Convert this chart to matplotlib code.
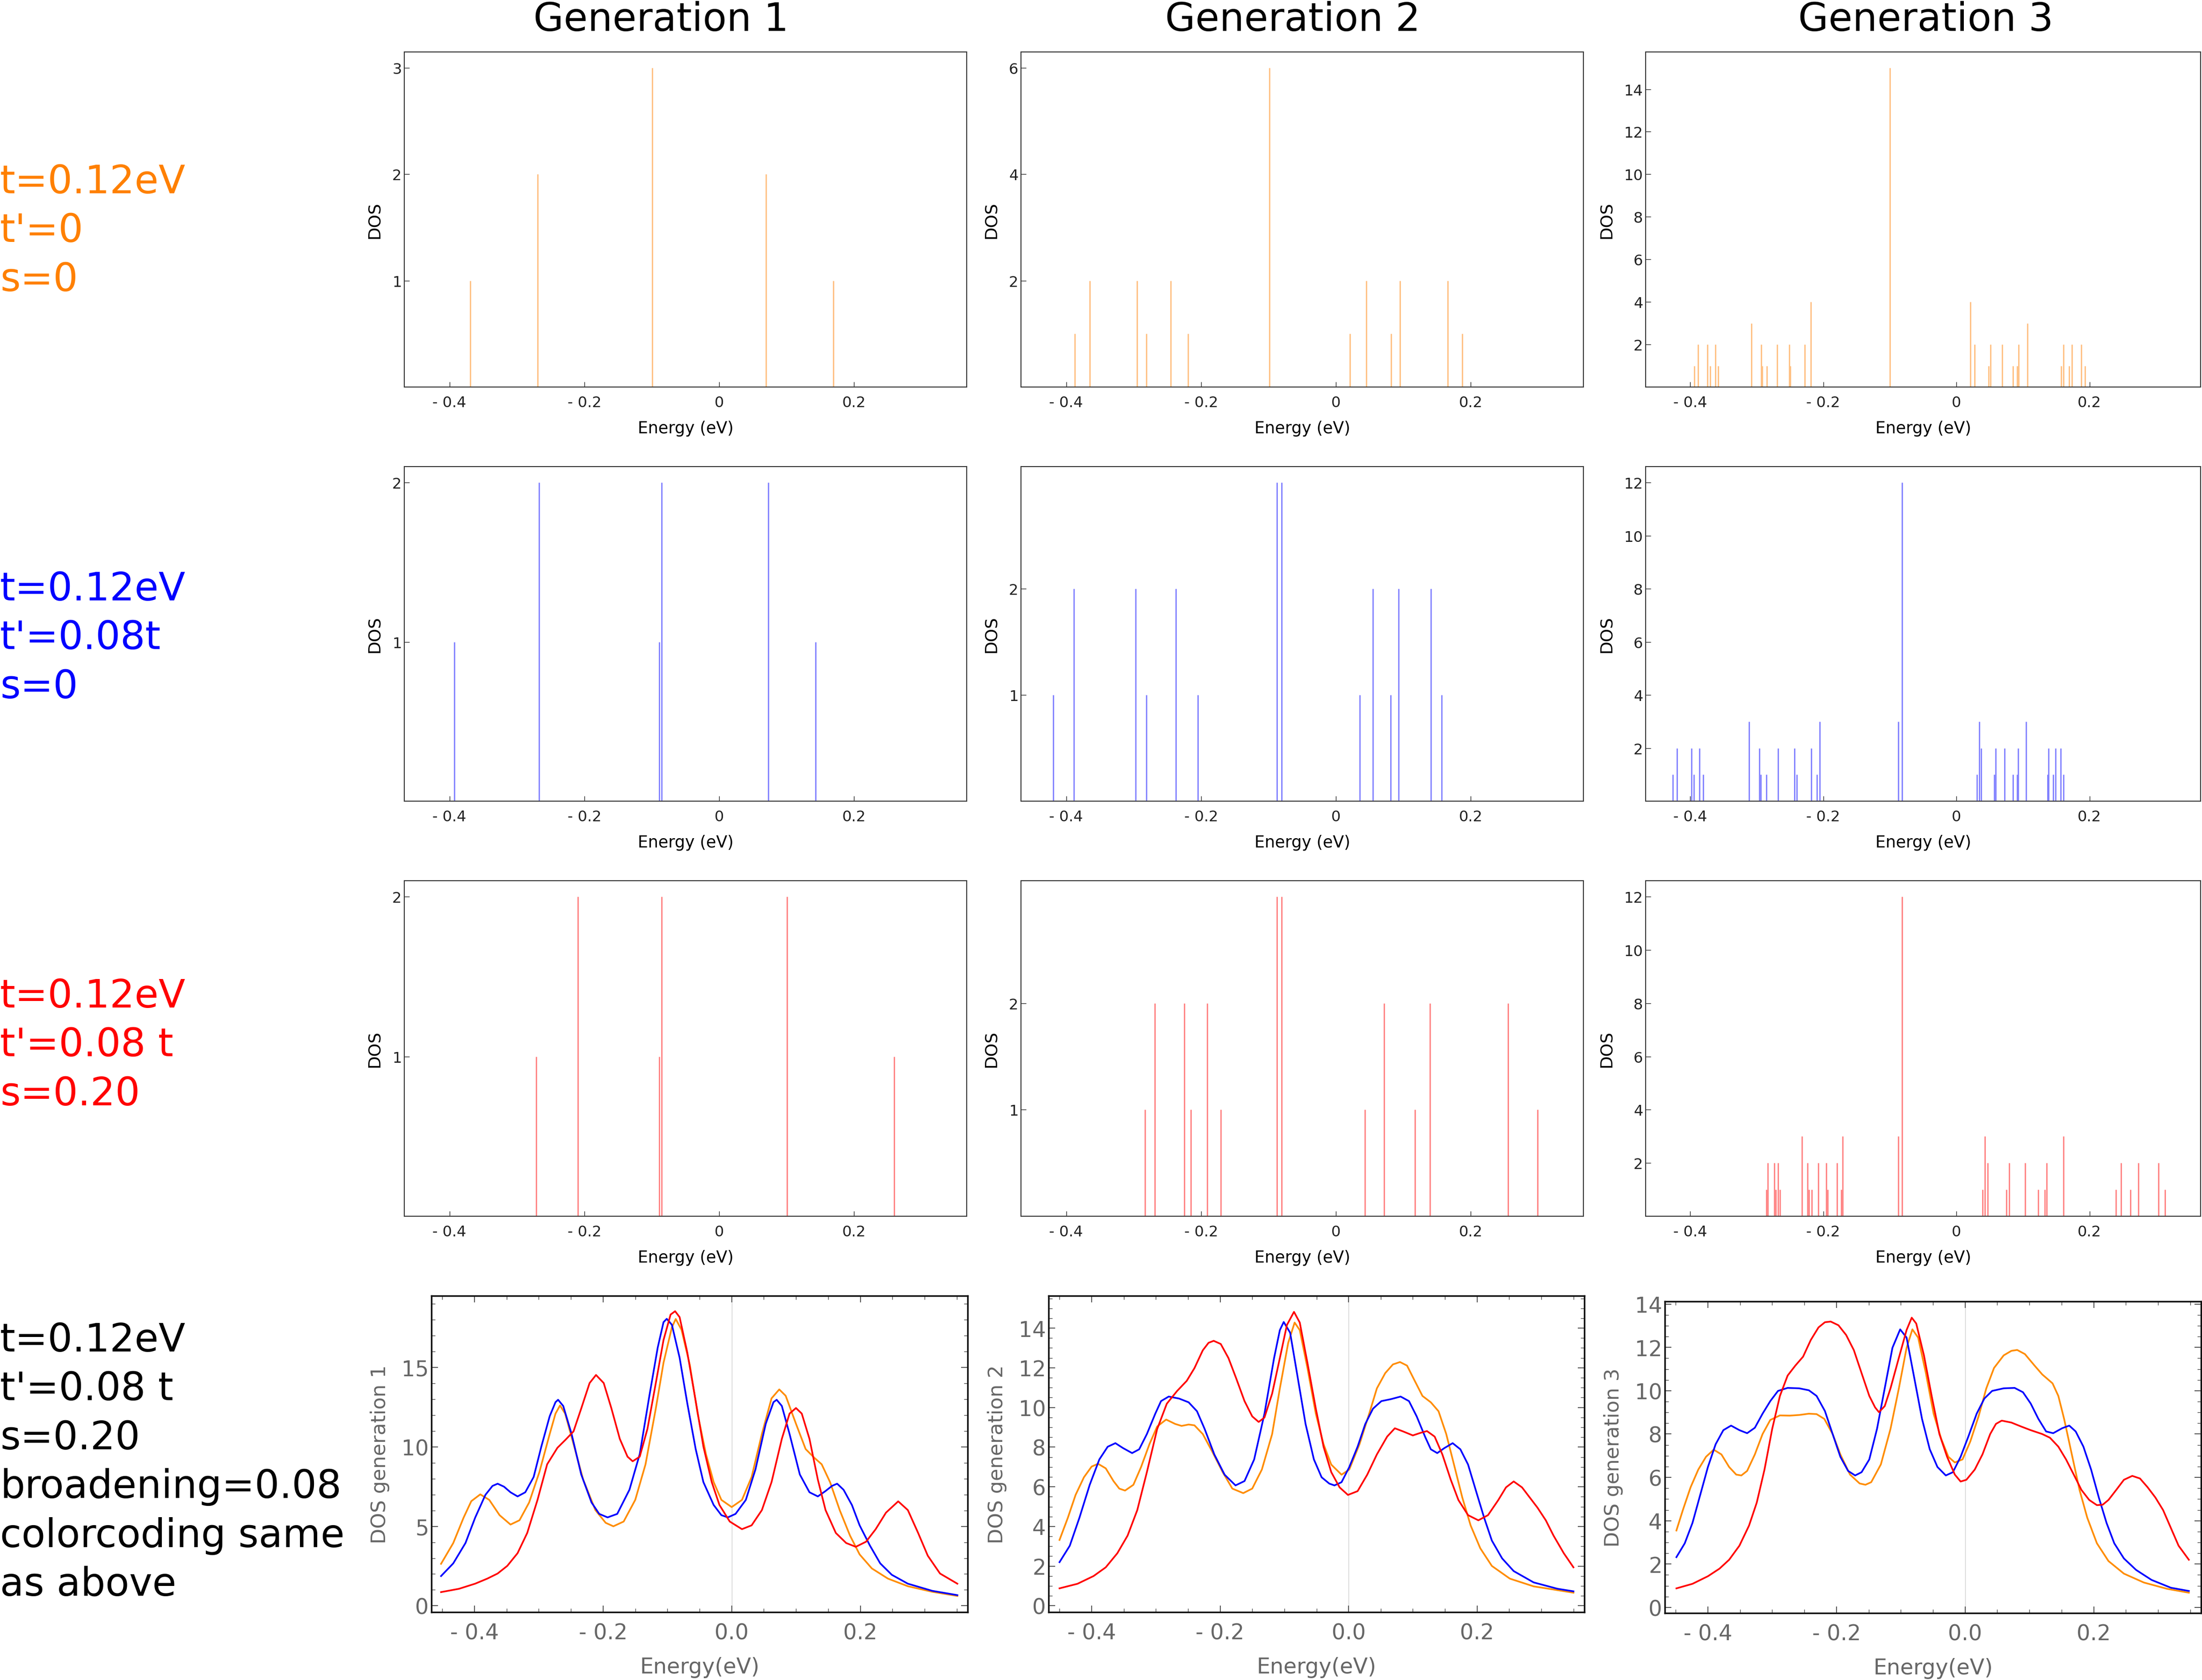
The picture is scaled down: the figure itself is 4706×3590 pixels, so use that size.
import numpy as np
import matplotlib.pyplot as plt
from matplotlib.ticker import MultipleLocator

plt.rcParams['font.family'] = ['DejaVu Sans']

W, H = 4706, 3591  # output size in pixels, dpi 100

# stick spectra of the top three rows: (energy in eV, degeneracy)
# row a: t'=0, s=0   row b: t'=0.08t, s=0   row c: t'=0.08t, s=0.20
sticks_a1 = [(-0.369, 1), (-0.269, 2), (-0.099, 3), (0.069, 2), (0.169, 1)]
sticks_a2 = [(-0.387, 1), (-0.365, 2), (-0.295, 2), (-0.281, 1), (-0.245, 2), (-0.219, 1),
             (-0.0985, 6), (0.021, 1), (0.045, 2), (0.0816, 1), (0.095, 2), (0.1655, 2), (0.187, 1)]
sticks_a3 = [(-0.394, 1), (-0.388, 2), (-0.374, 2), (-0.370, 1), (-0.362, 2), (-0.358, 1),
             (-0.308, 3), (-0.2935, 2), (-0.2918, 1), (-0.285, 1), (-0.2695, 2), (-0.2514, 2),
             (-0.2496, 1), (-0.228, 2), (-0.219, 4), (-0.0996, 15), (0.021, 4), (0.0275, 2),
             (0.0486, 1), (0.051, 2), (0.069, 2), (0.085, 1), (0.0914, 1), (0.0937, 2),
             (0.107, 3), (0.1576, 1), (0.161, 2), (0.1693, 1), (0.1734, 2), (0.1875, 2), (0.1934, 1)]

sticks_b1 = [(-0.393, 1), (-0.267, 2), (-0.0892, 1), (-0.0851, 2), (0.0729, 2), (0.1429, 1)]
sticks_b2 = [(-0.419, 1), (-0.3885, 2), (-0.297, 2), (-0.281, 1), (-0.237, 2), (-0.205, 1),
             (-0.0874, 3), (-0.0804, 3), (0.035, 1), (0.0547, 2), (0.081, 1), (0.0932, 2),
             (0.1409, 2), (0.1567, 1)]
sticks_b3 = [(-0.4259, 1), (-0.420, 2), (-0.3983, 2), (-0.3943, 1), (-0.3861, 2), (-0.3802, 1),
             (-0.3117, 3), (-0.2959, 2), (-0.2941, 1), (-0.2859, 1), (-0.2677, 2), (-0.2437, 2),
             (-0.2402, 1), (-0.2179, 2), (-0.2097, 1), (-0.2056, 3), (-0.0873, 3), (-0.0814, 12),
             (0.031, 1), (0.0346, 3), (0.0369, 2), (0.0568, 1), (0.0592, 2), (0.0726, 2),
             (0.0849, 1), (0.0914, 1), (0.0931, 2), (0.1049, 3), (0.1371, 1), (0.1388, 2),
             (0.1453, 1), (0.1488, 2), (0.157, 2), (0.1611, 1)]

sticks_c1 = [(-0.2711, 1), (-0.2093, 2), (-0.0892, 1), (-0.0851, 2), (0.1009, 2), (0.2595, 1)]
sticks_c2 = [(-0.2831, 1), (-0.2685, 2), (-0.2248, 2), (-0.2149, 1), (-0.191, 2), (-0.1706, 1),
             (-0.0874, 3), (-0.0804, 3), (0.0431, 1), (0.0711, 2), (0.1171, 1), (0.1392, 2),
             (0.2551, 2), (0.2988, 1)]
sticks_c3 = [(-0.2859, 1), (-0.2835, 2), (-0.2736, 2), (-0.2718, 1), (-0.2677, 2), (-0.2654, 1),
             (-0.232, 3), (-0.2238, 2), (-0.2214, 1), (-0.2173, 1), (-0.2074, 2), (-0.1957, 2),
             (-0.1933, 1), (-0.1793, 2), (-0.1734, 1), (-0.1711, 3), (-0.0873, 3), (-0.0814, 12),
             (0.0393, 1), (0.0428, 3), (0.0469, 2), (0.075, 1), (0.0791, 2), (0.1031, 2),
             (0.123, 1), (0.133, 1), (0.1353, 2), (0.1611, 3), (0.2396, 1), (0.2472, 2),
             (0.2613, 1), (0.2736, 2), (0.3035, 2), (0.3134, 1)]

# broadened DOS of the bottom row: (energy, DOS)
dos1_orange = [(-0.452, 2.64), (-0.433, 3.95), (-0.417, 5.54), (-0.405, 6.58), (-0.391, 7.01),
               (-0.377, 6.66), (-0.361, 5.70), (-0.344, 5.11), (-0.330, 5.38), (-0.315, 6.50),
               (-0.299, 8.42), (-0.283, 10.81), (-0.274, 12.09), (-0.267, 12.60), (-0.259, 12.09),
               (-0.246, 10.18), (-0.231, 7.94), (-0.212, 6.02), (-0.196, 5.22), (-0.184, 5.00),
               (-0.168, 5.30), (-0.150, 6.66), (-0.134, 8.90), (-0.118, 12.41), (-0.106, 15.29),
               (-0.093, 17.52), (-0.087, 18.04), (-0.078, 17.36), (-0.065, 15.13), (-0.053, 12.09),
               (-0.040, 9.54), (-0.028, 7.78), (-0.016, 6.66), (0.000, 6.21), (0.016, 6.66),
               (0.031, 8.10), (0.047, 10.81), (0.062, 13.05), (0.074, 13.61), (0.084, 13.21),
               (0.100, 11.45), (0.115, 9.86), (0.128, 9.33), (0.140, 8.90), (0.153, 7.78),
               (0.168, 6.02), (0.184, 4.42), (0.199, 3.23), (0.218, 2.35), (0.243, 1.71),
               (0.274, 1.23), (0.312, 0.88), (0.351, 0.62)]
dos1_blue = [(-0.452, 1.87), (-0.433, 2.67), (-0.414, 3.95), (-0.399, 5.54), (-0.383, 6.98),
             (-0.372, 7.54), (-0.364, 7.68), (-0.354, 7.49), (-0.344, 7.14), (-0.333, 6.88),
             (-0.321, 7.14), (-0.308, 8.10), (-0.296, 10.02), (-0.283, 11.93), (-0.274, 12.81),
             (-0.270, 12.96), (-0.262, 12.57), (-0.249, 10.81), (-0.234, 8.26), (-0.218, 6.50),
             (-0.206, 5.78), (-0.193, 5.56), (-0.178, 5.78), (-0.159, 7.30), (-0.143, 9.54),
             (-0.128, 13.21), (-0.115, 16.25), (-0.106, 17.84), (-0.101, 18.05), (-0.093, 17.68),
             (-0.081, 15.61), (-0.069, 12.73), (-0.056, 9.86), (-0.044, 7.78), (-0.028, 6.34),
             (-0.016, 5.70), (-0.006, 5.56), (0.006, 5.78), (0.022, 6.66), (0.037, 8.58),
             (0.053, 11.45), (0.065, 12.81), (0.070, 12.96), (0.078, 12.57), (0.090, 10.81),
             (0.106, 8.26), (0.121, 7.14), (0.134, 6.88), (0.146, 7.22), (0.156, 7.54),
             (0.164, 7.68), (0.174, 7.30), (0.187, 6.34), (0.199, 5.06), (0.215, 3.79),
             (0.231, 2.67), (0.249, 1.95), (0.274, 1.39), (0.312, 0.94), (0.351, 0.67)]
dos1_red = [(-0.452, 0.86), (-0.424, 1.07), (-0.399, 1.39), (-0.380, 1.71), (-0.364, 2.03),
            (-0.349, 2.51), (-0.333, 3.31), (-0.318, 4.58), (-0.302, 6.66), (-0.287, 8.90),
            (-0.271, 9.94), (-0.259, 10.42), (-0.246, 10.97), (-0.234, 12.41), (-0.221, 14.01),
            (-0.211, 14.52), (-0.199, 14.01), (-0.187, 12.41), (-0.174, 10.50), (-0.162, 9.38),
            (-0.154, 9.09), (-0.143, 9.38), (-0.131, 11.13), (-0.118, 14.01), (-0.106, 16.72),
            (-0.095, 18.32), (-0.088, 18.53), (-0.081, 18.16), (-0.069, 15.93), (-0.056, 12.89),
            (-0.044, 10.02), (-0.031, 7.78), (-0.019, 6.34), (-0.003, 5.30), (0.016, 4.82),
            (0.031, 5.06), (0.047, 6.02), (0.062, 7.78), (0.078, 10.50), (0.090, 12.09),
            (0.100, 12.44), (0.109, 12.09), (0.121, 10.50), (0.134, 7.94), (0.146, 6.02),
            (0.162, 4.58), (0.178, 3.95), (0.193, 3.71), (0.209, 4.03), (0.224, 4.82),
            (0.240, 5.86), (0.259, 6.57), (0.274, 6.02), (0.290, 4.58), (0.305, 3.15),
            (0.324, 2.03), (0.351, 1.39)]

dos2_orange = [(-0.450, 3.32), (-0.437, 4.44), (-0.425, 5.59), (-0.412, 6.48), (-0.400, 7.02),
               (-0.390, 7.16), (-0.378, 6.93), (-0.366, 6.29), (-0.357, 5.91), (-0.348, 5.81),
               (-0.335, 6.10), (-0.323, 7.00), (-0.310, 8.15), (-0.298, 9.04), (-0.284, 9.39),
               (-0.270, 9.17), (-0.260, 9.07), (-0.249, 9.14), (-0.240, 9.10), (-0.227, 8.66),
               (-0.212, 7.76), (-0.196, 6.74), (-0.181, 5.91), (-0.164, 5.68), (-0.150, 5.91),
               (-0.135, 6.87), (-0.119, 8.66), (-0.107, 10.96), (-0.094, 13.26), (-0.084, 14.28),
               (-0.076, 13.90), (-0.064, 11.98), (-0.051, 9.68), (-0.039, 8.15), (-0.027, 7.12),
               (-0.011, 6.61), (0.001, 6.87), (0.017, 8.15), (0.032, 9.68), (0.044, 10.96),
               (0.057, 11.73), (0.069, 12.17), (0.080, 12.29), (0.091, 12.11), (0.103, 11.34),
               (0.115, 10.58), (0.128, 10.26), (0.140, 9.81), (0.152, 8.66), (0.165, 7.00),
               (0.177, 5.46), (0.190, 4.05), (0.205, 2.90), (0.223, 2.01), (0.251, 1.37),
               (0.288, 0.98), (0.325, 0.79), (0.350, 0.66)]
dos2_blue = [(-0.450, 2.20), (-0.434, 3.03), (-0.419, 4.44), (-0.403, 6.10), (-0.388, 7.38),
             (-0.375, 8.02), (-0.363, 8.20), (-0.351, 7.95), (-0.337, 7.70), (-0.326, 7.89),
             (-0.314, 8.66), (-0.301, 9.68), (-0.292, 10.32), (-0.280, 10.55), (-0.264, 10.45),
             (-0.249, 10.26), (-0.236, 9.81), (-0.224, 8.91), (-0.209, 7.63), (-0.193, 6.61),
             (-0.176, 6.07), (-0.162, 6.29), (-0.147, 7.38), (-0.131, 9.68), (-0.116, 12.49),
             (-0.107, 13.90), (-0.101, 14.31), (-0.091, 13.77), (-0.079, 11.47), (-0.067, 9.17),
             (-0.054, 7.38), (-0.042, 6.48), (-0.030, 6.16), (-0.022, 6.07), (-0.011, 6.23),
             (0.001, 6.99), (0.014, 8.02), (0.026, 9.17), (0.038, 9.94), (0.051, 10.32),
             (0.066, 10.42), (0.081, 10.55), (0.094, 10.32), (0.106, 9.55), (0.119, 8.53),
             (0.128, 7.89), (0.138, 7.70), (0.149, 7.95), (0.162, 8.20), (0.174, 7.89),
             (0.186, 7.12), (0.199, 5.72), (0.211, 4.44), (0.223, 3.29), (0.239, 2.39),
             (0.257, 1.75), (0.288, 1.18), (0.325, 0.86), (0.350, 0.73)]
dos2_red = [(-0.450, 0.88), (-0.422, 1.11), (-0.397, 1.50), (-0.378, 1.94), (-0.360, 2.65),
            (-0.344, 3.54), (-0.329, 4.82), (-0.314, 6.74), (-0.298, 8.91), (-0.283, 10.19),
            (-0.267, 10.83), (-0.252, 11.34), (-0.240, 11.98), (-0.227, 12.88), (-0.218, 13.26),
            (-0.210, 13.36), (-0.199, 13.20), (-0.187, 12.49), (-0.175, 11.47), (-0.162, 10.32),
            (-0.150, 9.55), (-0.140, 9.27), (-0.131, 9.49), (-0.119, 10.70), (-0.107, 12.49),
            (-0.096, 14.16), (-0.085, 14.82), (-0.076, 14.28), (-0.064, 12.24), (-0.051, 9.94),
            (-0.039, 8.02), (-0.027, 6.74), (-0.014, 5.97), (-0.001, 5.59), (0.014, 5.78),
            (0.029, 6.61), (0.044, 7.63), (0.060, 8.53), (0.072, 8.95), (0.085, 8.79),
            (0.100, 8.59), (0.112, 8.72), (0.122, 8.81), (0.134, 8.53), (0.146, 7.63),
            (0.159, 6.36), (0.171, 5.33), (0.186, 4.57), (0.202, 4.31), (0.217, 4.57),
            (0.233, 5.33), (0.245, 5.97), (0.257, 6.27), (0.270, 5.97), (0.282, 5.46),
            (0.294, 4.95), (0.307, 4.31), (0.319, 3.54), (0.335, 2.65), (0.350, 1.94)]

dos3_orange = [(-0.449, 3.55), (-0.439, 4.49), (-0.427, 5.54), (-0.415, 6.36), (-0.403, 6.95),
               (-0.391, 7.28), (-0.379, 7.06), (-0.367, 6.48), (-0.356, 6.13), (-0.348, 6.09),
               (-0.339, 6.30), (-0.327, 7.06), (-0.315, 8.00), (-0.303, 8.65), (-0.288, 8.86),
               (-0.273, 8.85), (-0.258, 8.88), (-0.243, 8.94), (-0.231, 8.92), (-0.219, 8.70),
               (-0.206, 8.00), (-0.194, 7.06), (-0.179, 6.13), (-0.164, 5.72), (-0.155, 5.66),
               (-0.146, 5.78), (-0.131, 6.60), (-0.116, 8.24), (-0.103, 10.11), (-0.091, 11.98),
               (-0.082, 12.83), (-0.073, 12.45), (-0.061, 10.81), (-0.049, 8.94), (-0.037, 7.77),
               (-0.026, 6.95), (-0.016, 6.69), (-0.004, 6.83), (0.008, 7.65), (0.021, 8.82),
               (0.033, 10.11), (0.045, 11.05), (0.060, 11.63), (0.072, 11.84), (0.081, 11.88),
               (0.093, 11.69), (0.108, 11.16), (0.120, 10.75), (0.136, 10.34), (0.145, 9.76),
               (0.154, 8.70), (0.166, 7.06), (0.178, 5.42), (0.190, 4.14), (0.205, 2.96),
               (0.223, 2.14), (0.247, 1.56), (0.278, 1.15), (0.314, 0.86), (0.348, 0.68)]
dos3_blue = [(-0.449, 2.32), (-0.436, 2.96), (-0.424, 3.90), (-0.412, 5.19), (-0.400, 6.48),
             (-0.388, 7.53), (-0.376, 8.18), (-0.364, 8.39), (-0.351, 8.18), (-0.339, 8.04),
             (-0.327, 8.29), (-0.315, 8.94), (-0.303, 9.52), (-0.291, 9.99), (-0.276, 10.13),
             (-0.258, 10.11), (-0.243, 10.02), (-0.231, 9.76), (-0.218, 9.06), (-0.206, 8.00),
             (-0.194, 6.95), (-0.182, 6.30), (-0.171, 6.09), (-0.161, 6.24), (-0.149, 6.83),
             (-0.137, 8.24), (-0.125, 10.11), (-0.113, 11.98), (-0.101, 12.83), (-0.091, 12.45),
             (-0.079, 10.58), (-0.067, 8.70), (-0.055, 7.30), (-0.043, 6.48), (-0.030, 6.09),
             (-0.019, 6.24), (-0.007, 6.95), (0.005, 7.88), (0.018, 8.94), (0.030, 9.64),
             (0.042, 9.99), (0.060, 10.11), (0.077, 10.13), (0.090, 9.93), (0.102, 9.41),
             (0.114, 8.70), (0.126, 8.12), (0.137, 8.04), (0.151, 8.27), (0.162, 8.39),
             (0.172, 8.12), (0.184, 7.42), (0.196, 6.36), (0.208, 5.07), (0.220, 3.90),
             (0.232, 2.96), (0.247, 2.26), (0.266, 1.73), (0.290, 1.27), (0.320, 0.91),
             (0.348, 0.76)]
dos3_red = [(-0.449, 0.88), (-0.424, 1.09), (-0.400, 1.44), (-0.382, 1.79), (-0.367, 2.20),
            (-0.351, 2.85), (-0.336, 3.78), (-0.324, 4.84), (-0.312, 6.36), (-0.300, 8.24),
            (-0.288, 9.76), (-0.276, 10.70), (-0.264, 11.16), (-0.252, 11.57), (-0.240, 12.34),
            (-0.228, 12.92), (-0.218, 13.16), (-0.209, 13.19), (-0.197, 13.02), (-0.185, 12.57),
            (-0.173, 11.87), (-0.161, 10.81), (-0.149, 9.76), (-0.140, 9.23), (-0.134, 9.01),
            (-0.125, 9.29), (-0.116, 10.11), (-0.103, 11.52), (-0.091, 12.80), (-0.083, 13.37),
            (-0.076, 13.10), (-0.064, 11.63), (-0.052, 9.76), (-0.040, 8.00), (-0.028, 6.95),
            (-0.016, 6.13), (-0.007, 5.81), (0.002, 5.89), (0.015, 6.36), (0.027, 7.06),
            (0.039, 8.00), (0.048, 8.47), (0.057, 8.62), (0.072, 8.53), (0.087, 8.35),
            (0.102, 8.18), (0.120, 8.00), (0.132, 7.83), (0.145, 7.42), (0.157, 6.83),
            (0.169, 6.13), (0.181, 5.42), (0.193, 4.96), (0.205, 4.72), (0.214, 4.74),
            (0.223, 4.96), (0.235, 5.42), (0.247, 5.89), (0.260, 6.07), (0.272, 5.95),
            (0.284, 5.54), (0.296, 5.07), (0.308, 4.49), (0.320, 3.67), (0.332, 2.85),
            (0.348, 2.20)]

col_titles = ['Generation 1', 'Generation 2', 'Generation 3']
row_texts = [
    ['t=0.12eV', "t'=0", 's=0'],
    ['t=0.12eV', "t'=0.08t", 's=0'],
    ['t=0.12eV', "t'=0.08 t", 's=0.20'],
    ['t=0.12eV', "t'=0.08 t", 's=0.20', 'broadening=0.08', 'colorcoding same', 'as above'],
]
stick_yticks = [
    [[1, 2, 3], [2, 4, 6], [2, 4, 6, 8, 10, 12, 14]],
    [[1, 2], [1, 2], [2, 4, 6, 8, 10, 12]],
    [[1, 2], [1, 2], [2, 4, 6, 8, 10, 12]],
]
xtick_vals = [-0.4, -0.2, 0.0, 0.2]

# ---------------------------------------------------------------------------
ORANGE, BLUE, RED = '#FF8C00', '#0000FF', '#FF0000'
light = ['#FFBF80', '#8080FF', '#FF8080']
text_col = ['#FF8000', '#0000FF', '#FF0000', 'black']
GRAY = '#666666'

fig = plt.figure(figsize=(W / 100, H / 100), dpi=100)


def px_axes(l, t, r, b):
    return fig.add_axes([l / W, 1 - b / H, (r - l) / W, (b - t) / H])


# column titles and row captions
for x, s in zip([1413, 2763, 4116], col_titles):
    fig.text(x / W, 1 - 66 / H, s, fontsize=60, ha='center', va='baseline')

for lines, c, y0 in zip(row_texts, text_col, [413, 1283, 2153, 2888]):
    for k, s in enumerate(lines):
        fig.text(0.0, 1 - (y0 + k * 104.4) / H, s, fontsize=60, color=c,
                 ha='left', va='baseline')

# stick spectra
col_x = [(864, 2066), (2182, 3384), (3517, 4703)]
row_y = [(112, 828), (998, 1713), (1883, 2600)]
sticks = [[sticks_a1, sticks_a2, sticks_a3],
          [sticks_b1, sticks_b2, sticks_b3],
          [sticks_c1, sticks_c2, sticks_c3]]

for r in range(3):
    for c in range(3):
        E, N = zip(*sticks[r][c])
        ax = px_axes(col_x[c][0], row_y[r][0], col_x[c][1], row_y[r][1])
        ax.vlines(E, 0, N, color=light[r], lw=2.0)
        ax.set_xlim(-0.467, 0.367)
        ax.set_ylim(0, 1.05 * max(N))
        ax.set_xticks(xtick_vals)
        ax.set_xticklabels(['- 0.4', '- 0.2', '0', '0.2'])
        ax.set_yticks(stick_yticks[r][c])
        ax.tick_params(direction='in', length=8, width=1.0, labelsize=23,
                       colors='#222222', top=False, right=False)
        ax.tick_params(axis='x', pad=13)
        ax.tick_params(axis='y', pad=4)
        ax.set_xlabel('Energy (eV)', fontsize=25, labelpad=16)
        ax.set_ylabel('DOS', fontsize=26, labelpad=15)
        for sp in ax.spines.values():
            sp.set_linewidth(1.5)
            sp.set_color('#333333')

# broadened DOS
dos_boxes = [(922, 2770, 2068, 3446), (2241, 2770, 3386, 3446), (3558, 2782, 4704, 3448)]
dos_ylim = [(-0.4, 19.5), (-0.32, 15.63), (-0.26, 14.12)]
dos_step = [(5, 1), (2, 0.5), (2, 0.5)]
dos_curves = [[dos1_orange, dos1_blue, dos1_red],
              [dos2_orange, dos2_blue, dos2_red],
              [dos3_orange, dos3_blue, dos3_red]]

for g in range(3):
    ax = px_axes(*dos_boxes[g])
    ax.axvline(0, color='#cfcfcf', lw=1.0, zorder=0)
    for pts, col in zip(dos_curves[g], [ORANGE, BLUE, RED]):
        E, D = zip(*pts)
        ax.plot(E, D, color=col, lw=2.6, solid_joinstyle='round')
    ax.set_xlim(-0.467, 0.367)
    ax.set_ylim(*dos_ylim[g])
    ax.set_xticks(xtick_vals)
    ax.set_xticklabels(['- 0.4', '- 0.2', '0.0', '0.2'])
    ax.xaxis.set_minor_locator(MultipleLocator(0.05))
    ax.yaxis.set_major_locator(MultipleLocator(dos_step[g][0]))
    ax.yaxis.set_minor_locator(MultipleLocator(dos_step[g][1]))
    ax.tick_params(which='both', direction='in', top=True, right=True,
                   color='#444444', labelcolor=GRAY, labelsize=33)
    ax.tick_params(which='major', length=10, width=1.3)
    ax.tick_params(which='minor', length=6, width=1.0)
    ax.tick_params(axis='x', which='both', pad=16)
    ax.tick_params(axis='y', which='both', pad=4)
    ax.set_xlabel('Energy(eV)', fontsize=33, color=GRAY, labelpad=20)
    ax.set_ylabel('DOS generation %d' % (g + 1), fontsize=31, color=GRAY, labelpad=18)
    for sp in ax.spines.values():
        sp.set_linewidth(2.5)
        sp.set_color('#111111')

fig.savefig('out.png', dpi=100)
